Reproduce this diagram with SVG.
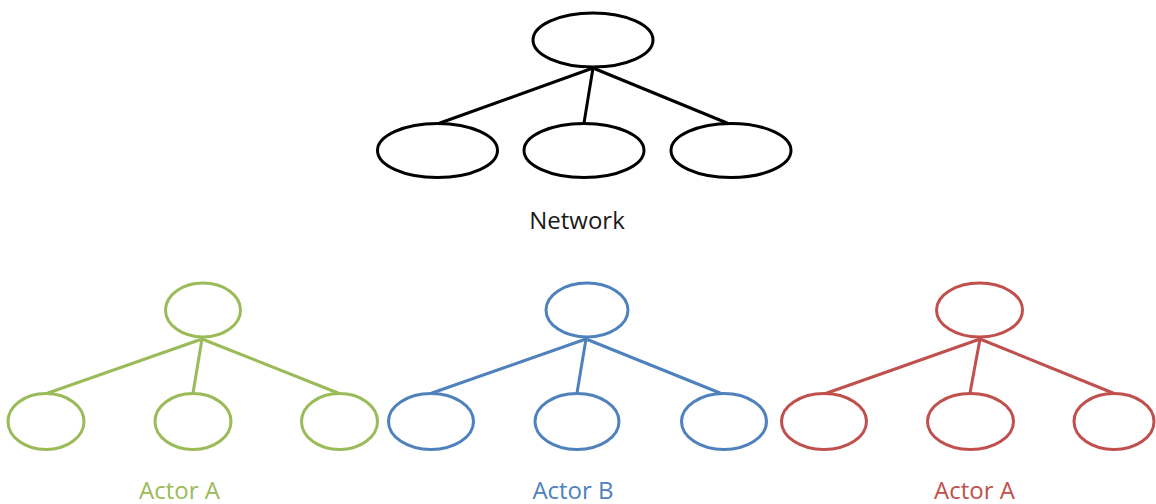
<svg xmlns="http://www.w3.org/2000/svg" width="1156" height="504" viewBox="0 0 1156 504">
<style>
.n{fill:#ffffff;stroke-width:3}
.c{stroke-width:3;fill:none;stroke-linecap:round}
.k{stroke:#000000}
.g{stroke:#9BBB59}
.b{stroke:#4F81BD}
.r{stroke:#C0504D}
text{font-family:"Open Sans","Noto Sans",sans-serif;font-size:24px;text-anchor:middle}
</style>
<rect width="1156" height="504" fill="#ffffff"/>
<g id="connectors">
<line class="c k" x1="593" y1="68" x2="440" y2="123"/>
<line class="c k" x1="593" y1="68" x2="584" y2="123"/>
<line class="c k" x1="593" y1="68" x2="727" y2="123"/>
<line class="c g" x1="202" y1="339" x2="48" y2="393"/>
<line class="c g" x1="202" y1="339" x2="193" y2="393"/>
<line class="c g" x1="202" y1="339" x2="338" y2="393"/>
<line class="c b" x1="586" y1="339" x2="432" y2="393"/>
<line class="c b" x1="586" y1="339" x2="577" y2="393"/>
<line class="c b" x1="586" y1="339" x2="720" y2="393"/>
<line class="c r" x1="980" y1="339" x2="827" y2="393"/>
<line class="c r" x1="980" y1="339" x2="970" y2="393"/>
<line class="c r" x1="980" y1="339" x2="1113" y2="393"/>
</g>
<g id="net-root"><ellipse class="n k" cx="593" cy="40" rx="60" ry="27"/></g>
<g id="net-1"><ellipse class="n k" cx="437.5" cy="150.5" rx="60" ry="27"/></g>
<g id="net-2"><ellipse class="n k" cx="584" cy="150.5" rx="60" ry="27"/></g>
<g id="net-3"><ellipse class="n k" cx="731" cy="150.5" rx="60" ry="27"/></g>
<g id="net-label"><text x="577" y="229" fill="#1a1a1a">Network</text></g>

<g id="a-root"><ellipse class="n g" cx="203" cy="310" rx="37.5" ry="27"/></g>
<g id="a-1"><ellipse class="n g" cx="46" cy="421.5" rx="38" ry="28"/></g>
<g id="a-2"><ellipse class="n g" cx="193" cy="421.5" rx="38" ry="28"/></g>
<g id="a-3"><ellipse class="n g" cx="339.5" cy="421.5" rx="38" ry="28"/></g>
<g id="a-label"><text x="179.5" y="499" fill="#9BBB59">Actor A</text></g>

<g id="b-root"><ellipse class="n b" cx="587" cy="310" rx="41" ry="27"/></g>
<g id="b-1"><ellipse class="n b" cx="431" cy="421.5" rx="42.5" ry="28"/></g>
<g id="b-2"><ellipse class="n b" cx="577" cy="421.5" rx="42" ry="28"/></g>
<g id="b-3"><ellipse class="n b" cx="724" cy="421.5" rx="42.5" ry="28"/></g>
<g id="b-label"><text x="573" y="499" fill="#4F81BD">Actor B</text></g>

<g id="c-root"><ellipse class="n r" cx="979.5" cy="310" rx="43" ry="27"/></g>
<g id="c-1"><ellipse class="n r" cx="824" cy="421.5" rx="42.5" ry="28"/></g>
<g id="c-2"><ellipse class="n r" cx="970.5" cy="421.5" rx="43" ry="28"/></g>
<g id="c-3"><ellipse class="n r" cx="1114" cy="421.5" rx="40" ry="28"/></g>
<g id="c-label"><text x="974.5" y="499" fill="#C0504D">Actor A</text></g>
</svg>
